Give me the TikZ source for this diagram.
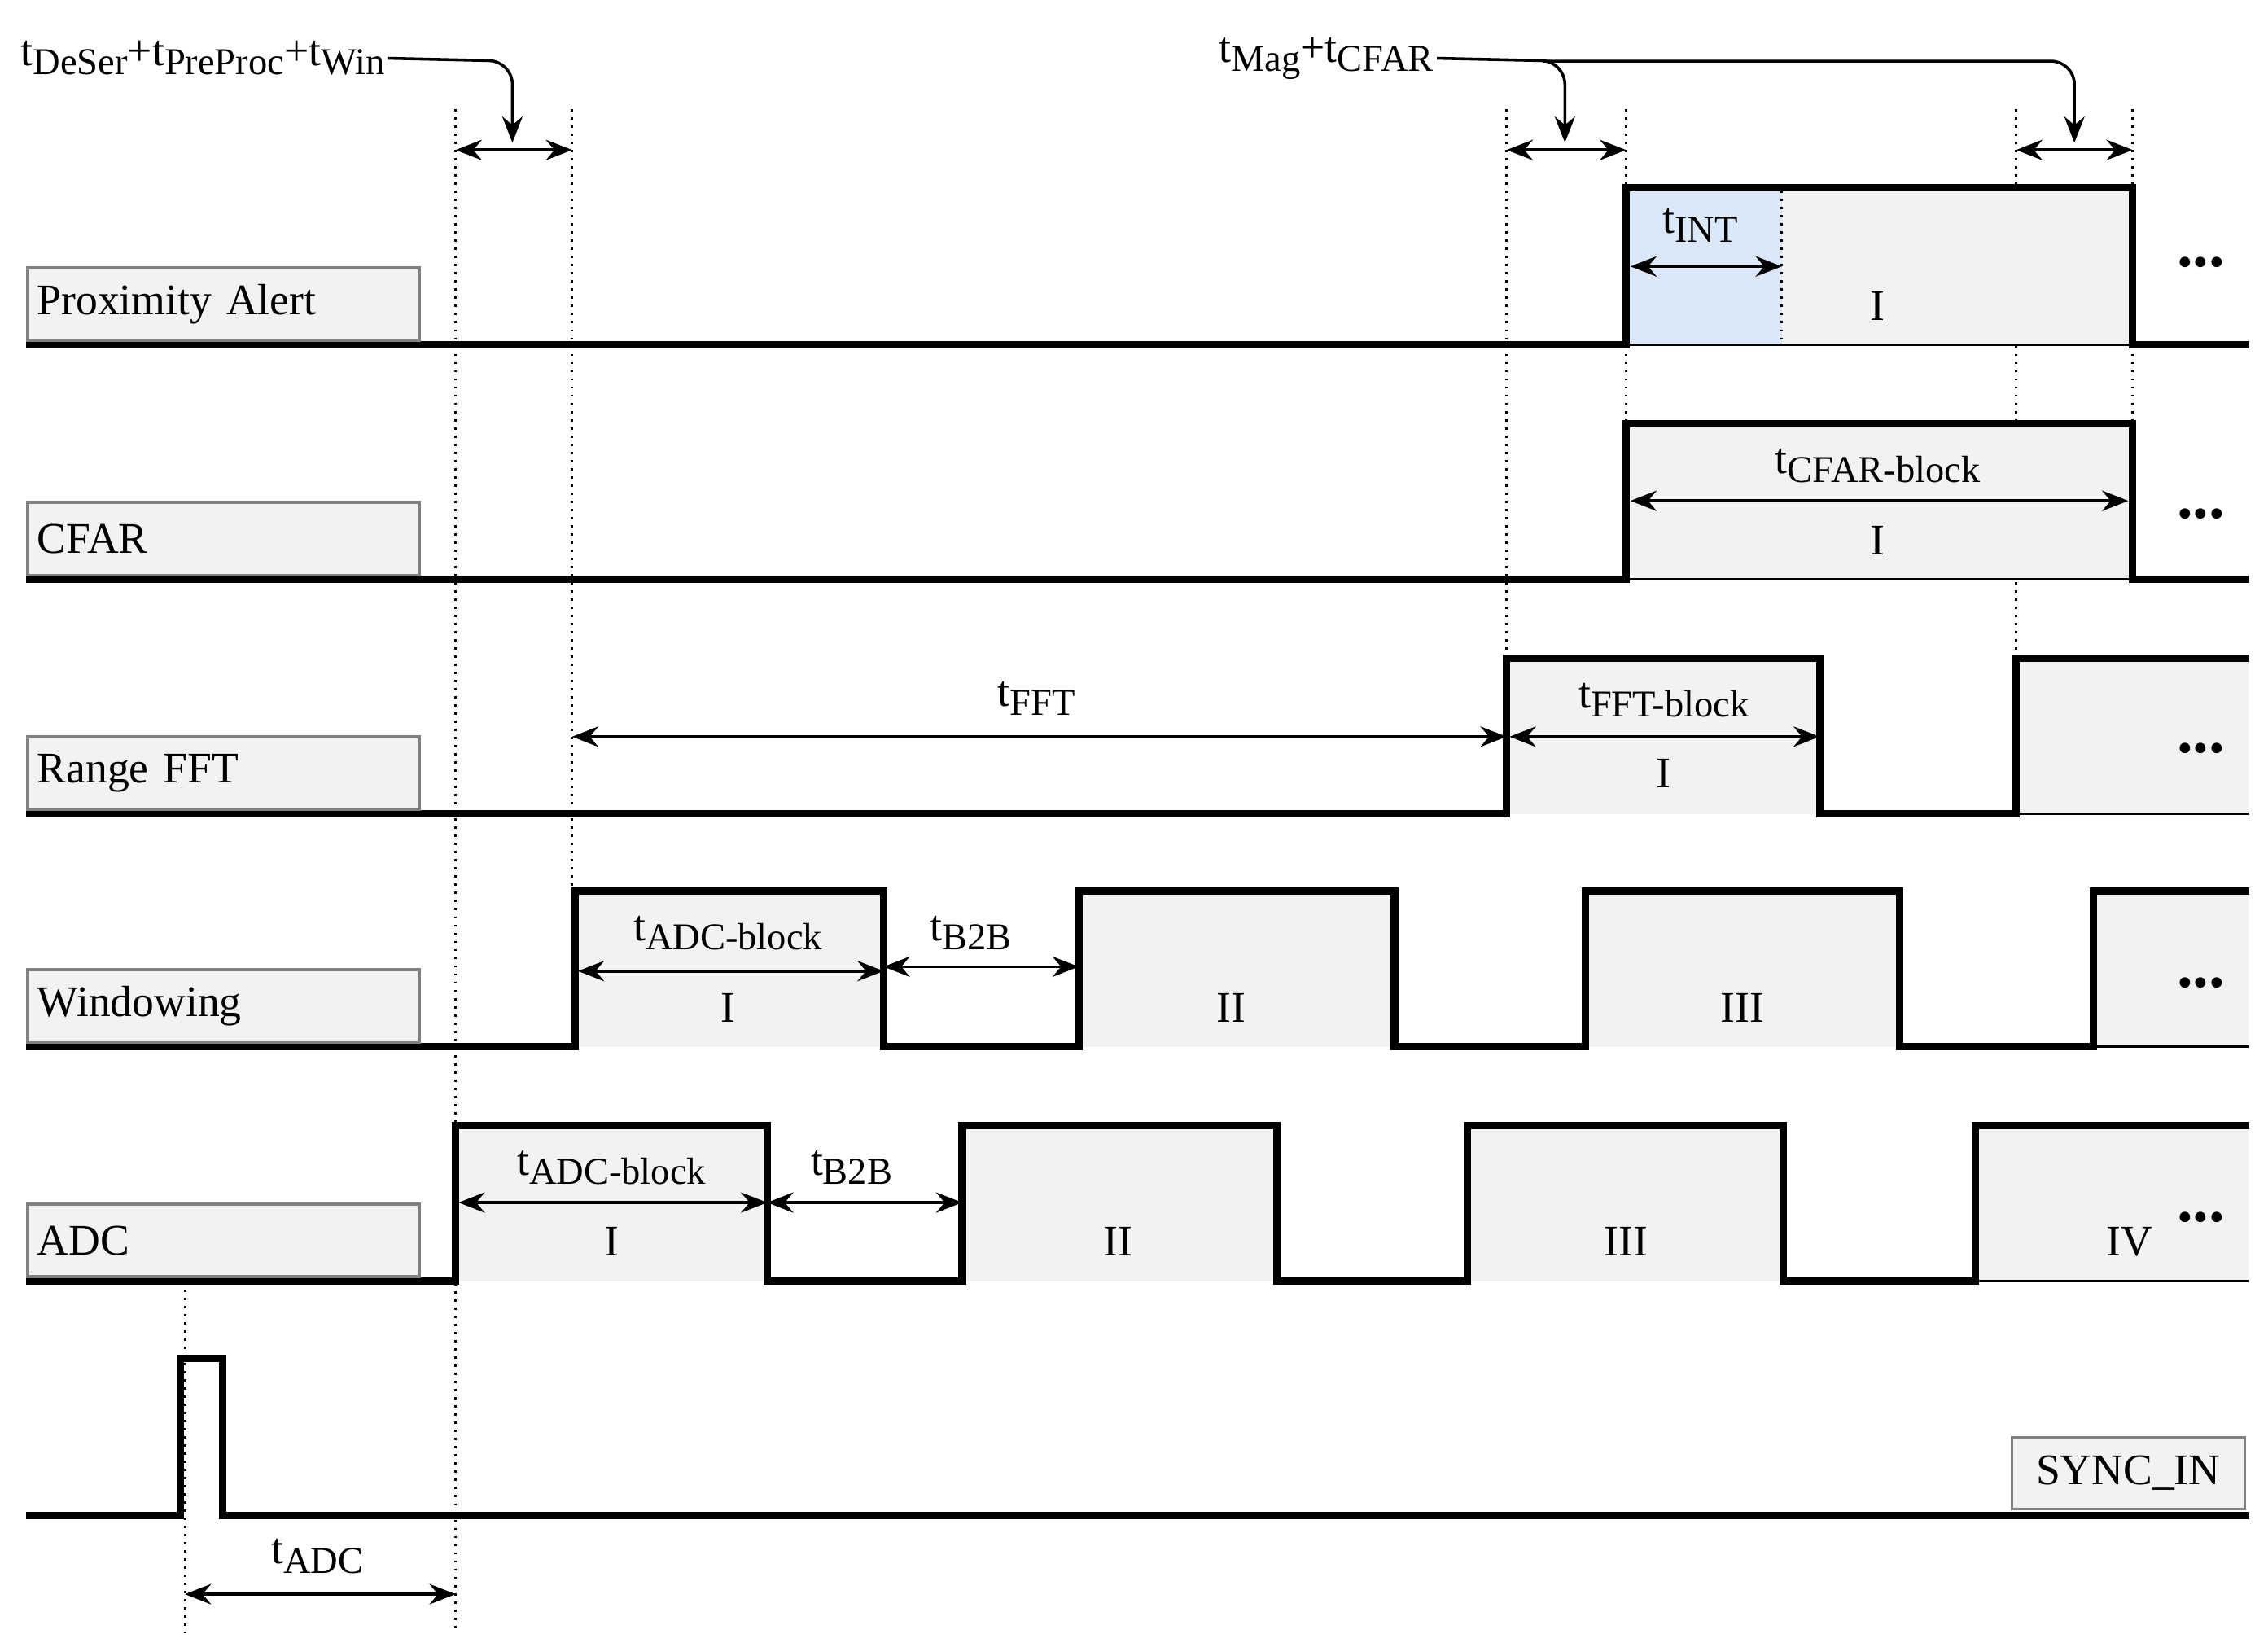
\documentclass[tikz,border=0pt]{standalone}
\usepackage{fontspec}
\setmainfont{Liberation Serif}
\usetikzlibrary{arrows.meta}
\definecolor{lblue}{RGB}{218,232,250}
\newcommand{\tsb}[1]{\raisebox{-0.45ex}{\fontsize{13}{15}\selectfont #1}}
\begin{document}
\begin{tikzpicture}[x=0.5pt,y=-0.5pt,
  sig/.style={line width=2.6pt,line join=miter},
  blk/.style={fill=gray!10},
  lbl/.style={draw=gray,line width=1pt,fill=gray!10,minimum width=134.5pt,minimum height=25pt,inner sep=2pt,anchor=south west,text width=128pt,align=left},
  dim/.style={line width=1pt,{Stealth[length=9pt,width=7pt]}-{Stealth[length=9pt,width=7pt]}},
  vdot/.style={dotted,line width=0.8pt},
  txt/.style={font=\fontsize{15}{18}\selectfont,inner sep=1pt},
  feed/.style={line width=1pt,-{Stealth[length=9pt,width=7pt]},rounded corners=8pt}]
\fill[white] (0,0) rectangle (1558,1131);
\useasboundingbox (0,0) rectangle (1558,1131);
\tikzset{every node/.append style={font=\fontsize{15}{18}\selectfont}}
% dotted lines
\draw[vdot] (127,880) -- (127,1122);
\draw[vdot] (313,75) -- (313,1122);
\draw[vdot] (393,75) -- (393,612);
\draw[vdot] (1035,75) -- (1035,452);
\draw[vdot] (1117,75) -- (1117,291);
\draw[vdot] (1385,75) -- (1385,452);
\draw[vdot] (1465,75) -- (1465,291);
% Proximity alert
\fill[blk] (1117,129) rectangle (1465,237);
\fill[lblue] (1119,131) rectangle (1224,236);
\draw[vdot] (1224,131) -- (1224,236);
\draw[sig] (18,237) -- (1117,237) -- (1117,129) -- (1465,129) -- (1465,237) -- (1545,237);
\draw[line width=0.8pt] (1117,237) -- (1465,237);
\node[lbl] (pa) at (18,235) {Proximity Alert};
\node[txt] (paI) at (1290,210) {I};
\node[txt] (tint) at (1168,155) {t\tsb{INT}};
\coordinate (i1) at (1120,183); \coordinate (i2) at (1224,183);
\draw[dim] (i1) -- (i2);
% CFAR
\fill[blk] (1117,291) rectangle (1465,398);
\draw[sig] (18,398) -- (1117,398) -- (1117,291) -- (1465,291) -- (1465,398) -- (1545,398);
\draw[line width=0.8pt] (1117,398) -- (1465,398);
\node[lbl] (cfar) at (18,396) {CFAR};
\node[txt] (cfI) at (1290,371) {I};
\node[txt] (tcb) at (1290,320) {t\tsb{CFAR-block}};
\coordinate (c1) at (1120,344); \coordinate (c2) at (1462,344);
\draw[dim] (c1) -- (c2);
% Range FFT
\fill[blk] (1035,452) rectangle (1250,559);
\fill[blk] (1385,452) rectangle (1545,559);
\draw[sig] (18,559) -- (1035,559) -- (1035,452) -- (1250,452) -- (1250,559) -- (1385,559) -- (1385,452) -- (1545,452);
\draw[line width=0.8pt] (1385,559) -- (1545,559);
\node[lbl] (fft) at (18,557) {Range FFT};
\node[txt] (ffI) at (1143,531) {I};
\node[txt] (tfb) at (1143,481) {t\tsb{FFT-block}};
\coordinate (f1) at (1037,506); \coordinate (f2) at (1250,506);
\draw[dim] (f1) -- (f2);
\node[txt] (tfft) at (712,480) {t\tsb{FFT}};
\coordinate (f3) at (393,506); \coordinate (f4) at (1035,506);
\draw[dim] (f3) -- (f4);
% Windowing
\foreach \a/\b in {395/607,741/958,1089/1305,1438/1545} \fill[blk] (\a,612) rectangle (\b,719);
\draw[sig] (18,719) -- (395,719) -- (395,612) -- (607,612) -- (607,719) -- (741,719) -- (741,612) -- (958,612) -- (958,719) -- (1089,719) -- (1089,612) -- (1305,612) -- (1305,719) -- (1438,719) -- (1438,612) -- (1545,612);
\draw[line width=0.8pt] (1438,719) -- (1545,719);
\node[lbl] (win) at (18,717) {Windowing};
\node[txt] (wI) at (500,692) {I};
\node[txt] (wII) at (846,692) {II};
\node[txt] (wIII) at (1197,692) {III};
\node[txt] (wab) at (500,641) {t\tsb{ADC-block}};
\coordinate (w1) at (397,667); \coordinate (w2) at (607,667);
\draw[dim] (w1) -- (w2);
\node[txt] (wbb) at (667,641) {t\tsb{B2B}};
\coordinate (w3) at (607,664); \coordinate (w4) at (741,664);
\draw[dim] (w3) -- (w4);
% ADC
\foreach \a/\b in {313/527,661/877,1008/1225,1357/1545} \fill[blk] (\a,773) rectangle (\b,880);
\draw[sig] (18,880) -- (313,880) -- (313,773) -- (527,773) -- (527,880) -- (661,880) -- (661,773) -- (877,773) -- (877,880) -- (1008,880) -- (1008,773) -- (1225,773) -- (1225,880) -- (1357,880) -- (1357,773) -- (1545,773);
\draw[line width=0.8pt] (1357,880) -- (1545,880);
\node[lbl] (adc) at (18,878) {ADC};
\node[txt] (aI) at (420,853) {I};
\node[txt] (aII) at (768,853) {II};
\node[txt] (aIII) at (1117,853) {III};
\node[txt] (aIV) at (1463,853) {IV};
\node[txt] (aab) at (420,802) {t\tsb{ADC-block}};
\coordinate (a1) at (315,826); \coordinate (a2) at (527,826);
\draw[dim] (a1) -- (a2);
\node[txt] (abb) at (585,802) {t\tsb{B2B}};
\coordinate (a3) at (527,826); \coordinate (a4) at (661,826);
\draw[dim] (a3) -- (a4);
% dots
\foreach \y/\n in {180/d1,353/d2,514/d3,675/d4,836/d5} \node[font=\fontsize{22}{22}\selectfont\bfseries] (\n) at (1512,\y) {...};
% SYNC
\draw[sig] (18,1041) -- (124,1041) -- (124,933) -- (153,933) -- (153,1041) -- (1545,1041);
\node[draw=gray,line width=1pt,fill=gray!10,minimum width=80pt,minimum height=24.5pt,inner sep=2pt] (sync) at (1462,1012) {SYNC\_IN};
\node[txt] (tadc) at (218,1069) {t\tsb{ADC}};
\coordinate (s1) at (127,1095); \coordinate (s2) at (313,1095);
\draw[dim] (s1) -- (s2);
% top
\coordinate (p1) at (313,103); \coordinate (p2) at (393,103);
\draw[dim] (p1) -- (p2);
\coordinate (p3) at (1035,103); \coordinate (p4) at (1117,103);
\draw[dim] (p3) -- (p4);
\coordinate (p5) at (1385,103); \coordinate (p6) at (1465,103);
\draw[dim] (p5) -- (p6);
\node[txt,anchor=west] (td) at (12,40) {t\tsb{DeSer}+t\tsb{PreProc}+t\tsb{Win}};
\coordinate (q1) at (352,98);
\draw[feed] (td.east) -- (352,42) -- (q1);
\node[txt,anchor=west] (tm) at (835,40) {t\tsb{Mag}+t\tsb{CFAR}};
\coordinate (q2) at (1075,98); \coordinate (q3) at (1425,98);
\draw[feed] (tm.east) -- (1075,42) -- (q2);
\draw[feed] (1060,42) -- (1425,42) -- (q3);
\end{tikzpicture}
\end{document}
